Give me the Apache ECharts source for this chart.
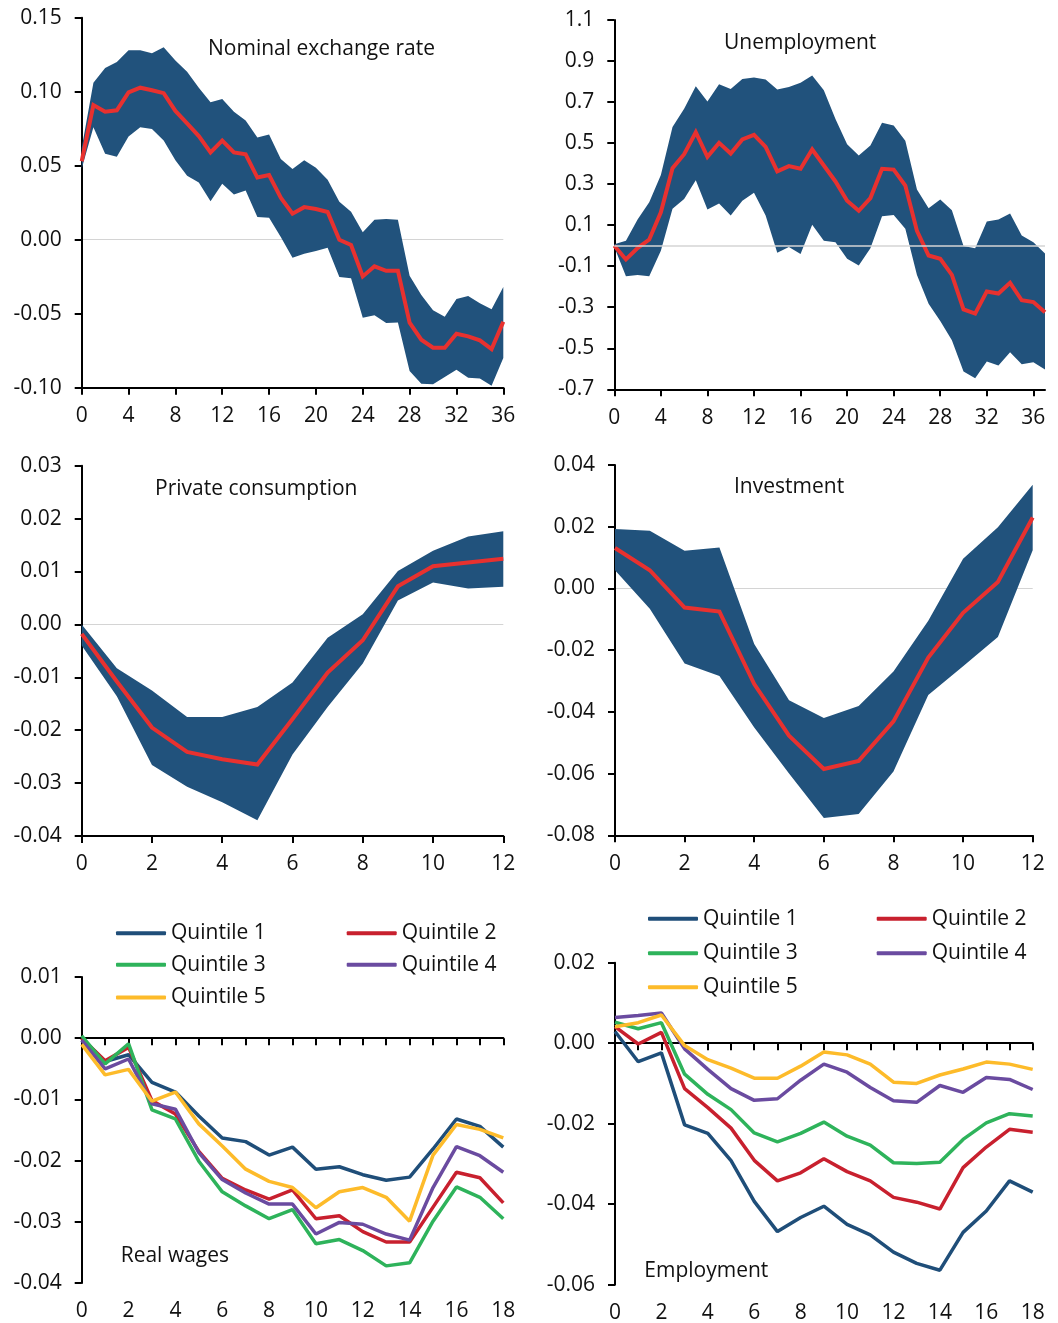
<!DOCTYPE html>
<html><head><meta charset="utf-8">
<script src="https://cdn.jsdelivr.net/npm/echarts@6/dist/echarts.min.js"></script>
<style>html,body{margin:0;padding:0;background:#fff}#c{width:1058px;height:1323px}</style>
</head><body><div id="c"></div><script>
// ---------- categories ----------
const periods37 = ['0','1','2','3','4','5','6','7','8','9','10','11','12','13','14','15','16','17','18','19','20','21','22','23','24','25','26','27','28','29','30','31','32','33','34','35','36'];
const periods38 = ['0','1','2','3','4','5','6','7','8','9','10','11','12','13','14','15','16','17','18','19','20','21','22','23','24','25','26','27','28','29','30','31','32','33','34','35','36','37'];
const periods13 = ['0','1','2','3','4','5','6','7','8','9','10','11','12'];
const periods19 = ['0','1','2','3','4','5','6','7','8','9','10','11','12','13','14','15','16','17','18'];

// ---------- Nominal exchange rate ----------
const neerMid = [0.053,0.091,0.0865,0.0874,0.0995,0.1027,0.101,0.099,0.087,0.0786,0.070,0.059,0.067,0.059,0.0577,0.042,0.0437,0.0284,0.0176,0.022,0.0207,0.0187,0.000,-0.0036,-0.0248,-0.018,-0.021,-0.021,-0.056,-0.0676,-0.073,-0.073,-0.0635,-0.0653,-0.068,-0.0739,-0.0554];
const neerUp  = [0.062,0.106,0.116,0.120,0.128,0.128,0.126,0.130,0.121,0.1135,0.1027,0.0928,0.095,0.0865,0.0806,0.069,0.071,0.0545,0.0477,0.0536,0.0486,0.0405,0.0257,0.0189,0.005,0.0135,0.014,0.0135,-0.0243,-0.0374,-0.0477,-0.052,-0.040,-0.038,-0.043,-0.047,-0.032];
const neerLo  = [0.048,0.076,0.058,0.056,0.0698,0.076,0.0748,0.067,0.0536,0.0432,0.0387,0.026,0.0378,0.0306,0.0333,0.0153,0.0149,0.0018,-0.0122,-0.0095,-0.0077,-0.0054,-0.0252,-0.026,-0.0527,-0.051,-0.0563,-0.0559,-0.0887,-0.0973,-0.0977,-0.0928,-0.0878,-0.0932,-0.0937,-0.0986,-0.080];

// ---------- Unemployment ----------
const unempMid = [0.0,-0.067,-0.012,0.030,0.163,0.378,0.446,0.553,0.433,0.501,0.449,0.518,0.540,0.482,0.362,0.388,0.375,0.469,0.391,0.313,0.219,0.170,0.232,0.375,0.371,0.293,0.072,-0.048,-0.064,-0.142,-0.311,-0.331,-0.223,-0.233,-0.181,-0.266,-0.275,-0.324];
const unempUp  = [0.007,0.024,0.128,0.212,0.345,0.579,0.667,0.777,0.703,0.787,0.764,0.813,0.820,0.810,0.761,0.774,0.794,0.829,0.758,0.618,0.495,0.440,0.488,0.599,0.586,0.511,0.274,0.183,0.225,0.173,-0.002,-0.012,0.118,0.128,0.157,0.050,0.017,-0.038];
const unempLo  = [-0.006,-0.149,-0.143,-0.149,-0.025,0.180,0.228,0.319,0.176,0.206,0.147,0.219,0.258,0.147,-0.035,-0.006,-0.041,0.102,0.024,0.017,-0.064,-0.097,-0.012,0.144,0.150,0.082,-0.143,-0.283,-0.367,-0.461,-0.613,-0.646,-0.565,-0.584,-0.519,-0.578,-0.568,-0.604];

// ---------- Private consumption ----------
const consMid = [-0.0018,-0.0108,-0.0195,-0.0241,-0.0255,-0.0265,-0.0179,-0.0091,-0.0030,0.0072,0.0110,0.0117,0.0124];
const consUp  = [0.0,-0.0083,-0.0125,-0.0175,-0.0175,-0.0156,-0.0110,-0.0025,0.0019,0.0101,0.0139,0.0166,0.0176];
const consLo  = [-0.0040,-0.0136,-0.0266,-0.0307,-0.0336,-0.0370,-0.0246,-0.0156,-0.0074,0.0045,0.0079,0.0068,0.0071];

// ---------- Investment ----------
const invMid = [0.0131,0.0059,-0.0062,-0.0075,-0.0310,-0.0477,-0.0585,-0.0559,-0.0431,-0.0224,-0.0079,0.0021,0.0230];
const invUp  = [0.0193,0.0187,0.0122,0.0133,-0.0180,-0.0362,-0.0420,-0.0381,-0.0269,-0.0105,0.0096,0.0198,0.0336];
const invLo  = [0.0059,-0.0066,-0.0243,-0.0284,-0.0451,-0.0600,-0.0744,-0.0731,-0.0593,-0.0345,-0.0252,-0.0157,0.0124];

// ---------- Real wages ----------
const wageQ1 = [0.0,-0.0038,-0.0027,-0.0072,-0.0088,-0.0127,-0.0163,-0.0169,-0.0191,-0.0178,-0.0214,-0.0210,-0.0223,-0.0232,-0.0227,-0.0181,-0.0132,-0.0144,-0.0178];
const wageQ2 = [0.0,-0.0037,-0.0015,-0.0102,-0.0124,-0.0185,-0.0229,-0.0248,-0.0263,-0.0248,-0.0295,-0.0290,-0.0316,-0.0333,-0.0333,-0.0276,-0.0219,-0.0228,-0.0269];
const wageQ3 = [0.0004,-0.0042,-0.0009,-0.0117,-0.0132,-0.0201,-0.0251,-0.0274,-0.0295,-0.0280,-0.0336,-0.0329,-0.0347,-0.0372,-0.0367,-0.0299,-0.0243,-0.0260,-0.0295];
const wageQ4 = [-0.0003,-0.0050,-0.0034,-0.0107,-0.0116,-0.0187,-0.0231,-0.0253,-0.0271,-0.0271,-0.0320,-0.0301,-0.0304,-0.0320,-0.0330,-0.0244,-0.0177,-0.0192,-0.0219];
const wageQ5 = [-0.0010,-0.0060,-0.0051,-0.0103,-0.0088,-0.0140,-0.0176,-0.0214,-0.0234,-0.0244,-0.0277,-0.0251,-0.0244,-0.0260,-0.0299,-0.0191,-0.0141,-0.0149,-0.0163];

// ---------- Employment ----------
const empQ1 = [0.0029,-0.0046,-0.0024,-0.0203,-0.0224,-0.0292,-0.0393,-0.0468,-0.0433,-0.0405,-0.0450,-0.0476,-0.0519,-0.0547,-0.0564,-0.0470,-0.0417,-0.0342,-0.0370];
const empQ2 = [0.0041,-0.0002,0.0027,-0.0113,-0.0160,-0.0211,-0.0291,-0.0342,-0.0322,-0.0287,-0.0319,-0.0342,-0.0383,-0.0395,-0.0412,-0.0309,-0.0258,-0.0214,-0.0221];
const empQ3 = [0.0052,0.0036,0.0051,-0.0077,-0.0127,-0.0165,-0.0223,-0.0245,-0.0224,-0.0196,-0.0231,-0.0253,-0.0297,-0.0299,-0.0296,-0.0239,-0.0198,-0.0175,-0.0181];
const empQ4 = [0.0064,0.0069,0.0075,-0.0014,-0.0065,-0.0113,-0.0142,-0.0138,-0.0092,-0.0052,-0.0072,-0.0110,-0.0143,-0.0147,-0.0105,-0.0122,-0.0085,-0.0090,-0.0115];
const empQ5 = [0.0041,0.0051,0.0070,-0.0006,-0.0041,-0.0062,-0.0087,-0.0087,-0.0057,-0.0022,-0.0029,-0.0052,-0.0097,-0.0100,-0.0079,-0.0064,-0.0047,-0.0052,-0.0065];

const quintileNames = ['Quintile 1','Quintile 2','Quintile 3','Quintile 4','Quintile 5'];

// ---------- styling ----------
const FONT = "'Open Sans','Noto Sans',sans-serif";
const FS = 21;
const TXT = '#111';
const BAND = '#21527c';
const RED = '#e8312f';
const QCOL = ['#1f4e79','#c8202e','#2eb35b','#6a4ba0','#fdbb2a'];
const AXC = '#000';

const grids = [
  {left:81.7, top:17.7, width:421.6, height:370},
  {left:614.3, top:20, width:430.7, height:369.3},
  {left:81.7, top:465.7, width:421.6, height:370.3},
  {left:615, top:465, width:417.7, height:370.3},
  {left:81.7, top:977, width:421.6, height:306},
  {left:615, top:962.7, width:417.7, height:322}
].map(g => Object.assign({outerBoundsMode:'none', containLabel:false}, g));

function fmt(dec){ return v => (Math.abs(v) < 1e-9 ? 0 : v).toFixed(dec); }

function zeroSplitColors(min, max, step){
  const cols = [];
  const n = Math.round((max - min) / step);
  for (let i = 0; i <= n; i++) {
    const v = min + i * step;
    cols.push(Math.abs(v) < 1e-9 ? '#d4d4d4' : 'rgba(0,0,0,0)');
  }
  return cols;
}

function yAxis(gi, min, max, step, dec, zeroSplit){
  return {
    gridIndex: gi, type: 'value', min, max, interval: step,
    axisLine: {show: true, lineStyle: {color: AXC, width: 2}},
    axisTick: {show: true, length: 7, lineStyle: {color: AXC, width: 2}},
    axisLabel: {formatter: fmt(dec), margin: 20, fontSize: FS, color: TXT, fontFamily: FONT},
    splitLine: zeroSplit ? {show: true, lineStyle: {color: zeroSplitColors(min, max, step), width: 1}} : {show: false}
  };
}

function xAxisBottom(gi, cats, every, showLine){
  return {
    gridIndex: gi, type: 'category', data: cats, boundaryGap: false, position: 'bottom',
    axisLine: {show: showLine, onZero: false, lineStyle: {color: AXC, width: 2}},
    axisTick: {show: showLine, interval: every - 1, length: 7, lineStyle: {color: AXC, width: 2}},
    axisLabel: {interval: every - 1, margin: 18, fontSize: FS, color: TXT, fontFamily: FONT},
    splitLine: {show: false}
  };
}

function xAxisZero(gi, cats){
  return {
    gridIndex: gi, type: 'category', data: cats, boundaryGap: false, position: 'top',
    axisLine: {show: true, onZero: true, lineStyle: {color: AXC, width: 2}},
    axisTick: {show: true, inside: true, interval: 0, length: 7, lineStyle: {color: AXC, width: 2}},
    axisLabel: {show: false},
    splitLine: {show: false}
  };
}

const xAxes = [
  xAxisBottom(0, periods37, 4, true),
  xAxisBottom(1, periods38, 4, true),
  xAxisBottom(2, periods13, 2, true),
  xAxisBottom(3, periods13, 2, true),
  xAxisBottom(4, periods19, 2, false),
  xAxisZero(4, periods19),
  xAxisBottom(5, periods19, 2, false),
  xAxisZero(5, periods19)
];

const yAxes = [
  yAxis(0, -0.10, 0.15, 0.05, 2, true),
  yAxis(1, -0.7, 1.1, 0.2, 1, false),
  yAxis(2, -0.04, 0.03, 0.01, 2, true),
  yAxis(3, -0.08, 0.04, 0.02, 2, true),
  yAxis(4, -0.04, 0.01, 0.01, 2, false),
  yAxis(5, -0.06, 0.02, 0.02, 2, false)
];

const series = [];
function addBand(xi, yi, lo, up, mid, zeroMark){
  const stackId = 'band' + yi;
  series.push({
    type: 'line', name: 'lower' + yi, xAxisIndex: xi, yAxisIndex: yi, data: lo,
    stack: stackId, stackStrategy: 'all', symbol: 'none', silent: true,
    lineStyle: {width: 0, opacity: 0}
  });
  series.push({
    type: 'line', name: 'band' + yi, xAxisIndex: xi, yAxisIndex: yi,
    data: up.map((u, k) => u - lo[k]),
    stack: stackId, stackStrategy: 'all', symbol: 'none', silent: true,
    lineStyle: {width: 0, opacity: 0},
    areaStyle: {color: BAND, opacity: 1}
  });
  const m = {
    type: 'line', name: 'mid' + yi, xAxisIndex: xi, yAxisIndex: yi, data: mid,
    symbol: 'none', silent: true, z: 4,
    lineStyle: {color: RED, width: 4, join: 'miter'}
  };
  if (zeroMark) {
    m.markLine = {silent: true, symbol: 'none', label: {show: false},
      lineStyle: {color: '#d4d4d4', width: 1.5, type: 'solid'},
      data: [{yAxis: 0}]};
  }
  series.push(m);
}
addBand(0, 0, neerLo, neerUp, neerMid, false);
addBand(1, 1, unempLo, unempUp, unempMid, true);
addBand(2, 2, consLo, consUp, consMid, false);
addBand(3, 3, invLo, invUp, invMid, false);

[wageQ1, wageQ2, wageQ3, wageQ4, wageQ5].forEach((d, i) => series.push({
  type: 'line', name: quintileNames[i], xAxisIndex: 4, yAxisIndex: 4, data: d,
  symbol: 'none', silent: true, lineStyle: {color: QCOL[i], width: 3.5}, itemStyle: {color: QCOL[i]}
}));
[empQ1, empQ2, empQ3, empQ4, empQ5].forEach((d, i) => series.push({
  type: 'line', name: quintileNames[i], xAxisIndex: 6, yAxisIndex: 5, data: d,
  symbol: 'none', silent: true, lineStyle: {color: QCOL[i], width: 3.5}, itemStyle: {color: QCOL[i]}
}));

// legends: one item each, laid out in two columns
const legendSpots = [
  // Real wages panel
  {name: 'Quintile 1', left: 116, cy: 931.7},
  {name: 'Quintile 2', left: 346.7, cy: 931.7},
  {name: 'Quintile 3', left: 116, cy: 963.3},
  {name: 'Quintile 4', left: 346.7, cy: 963.3},
  {name: 'Quintile 5', left: 116, cy: 996},
  // Employment panel
  {name: 'Quintile 1', left: 648, cy: 917.3},
  {name: 'Quintile 2', left: 876.7, cy: 917.3},
  {name: 'Quintile 3', left: 648, cy: 951.7},
  {name: 'Quintile 4', left: 876.7, cy: 951.7},
  {name: 'Quintile 5', left: 648, cy: 985.7}
];
const legends = legendSpots.map(s => ({
  data: [{name: s.name, icon: 'roundRect'}], left: s.left, top: s.cy - 9, padding: 0,
  itemWidth: 50, itemHeight: 4, selectedMode: false,
  textStyle: {fontSize: FS, color: TXT, fontFamily: FONT}
}));

const titleSpots = [
  {text: 'Nominal exchange rate', left: 208, cy: 47.5},
  {text: 'Unemployment', left: 724, cy: 41.7},
  {text: 'Private consumption', left: 155, cy: 487.3},
  {text: 'Investment', left: 734, cy: 486},
  {text: 'Real wages', left: 120.7, cy: 1254.3},
  {text: 'Employment', left: 644.3, cy: 1269.3}
];
const titles = titleSpots.map(t => ({
  text: t.text, left: t.left, top: t.cy - 9, padding: 0,
  textStyle: {fontSize: FS, fontWeight: 'normal', color: TXT, fontFamily: FONT}
}));

const chart = echarts.init(document.getElementById('c'), null, {renderer: 'canvas'});
chart.setOption({
  animation: false,
  backgroundColor: '#fff',
  title: titles,
  legend: legends,
  grid: grids,
  xAxis: xAxes,
  yAxis: yAxes,
  series: series
});
</script></body></html>
